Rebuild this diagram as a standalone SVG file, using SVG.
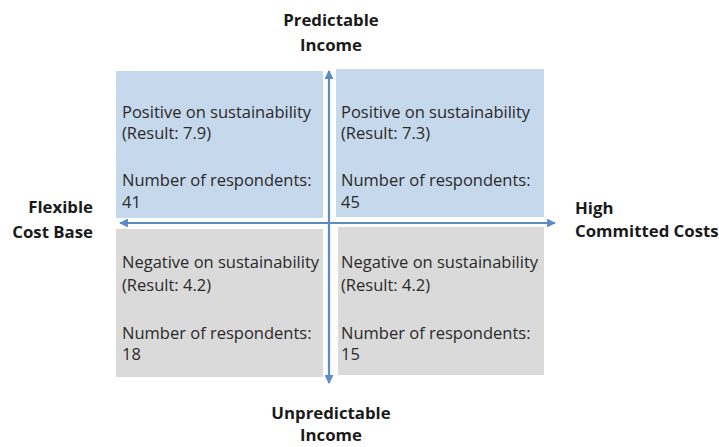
<svg xmlns="http://www.w3.org/2000/svg" width="719" height="447" viewBox="0 0 719 447">
<defs>
<style>
.q{font-family:"Open Sans","Liberation Sans",sans-serif;font-size:16.5px;fill:#2a2a2a}
.ax{font-family:"Open Sans","Liberation Sans",sans-serif;font-size:16.8px;font-weight:bold;fill:#1a1a1a}
.pos{fill:#c6d8ec}
.neg{fill:#dadada}
.axis{stroke:#5b8cc6;stroke-width:2.2;fill:none}
</style>
<marker id="ah" viewBox="0 0 10 10" refX="9" refY="5" markerWidth="4" markerHeight="4" orient="auto-start-reverse" markerUnits="strokeWidth">
<path d="M0,0 L10,5 L0,10 z" fill="#5b8cc6"/>
</marker>
</defs>
<rect width="719" height="447" fill="#ffffff"/>
<g id="q-top-left">
<rect class="pos" x="116" y="71" width="207" height="147"/>
<text class="q" x="122" y="118">Positive on sustainability</text>
<text class="q" x="122" y="139">(Result: 7.9)</text>
<text class="q" x="122" y="186">Number of respondents:</text>
<text class="q" x="122" y="208">41</text>
</g>
<g id="q-top-right">
<rect class="pos" x="336" y="69" width="208" height="148"/>
<text class="q" x="341" y="118">Positive on sustainability</text>
<text class="q" x="341" y="139">(Result: 7.3)</text>
<text class="q" x="341" y="186">Number of respondents:</text>
<text class="q" x="341" y="208">45</text>
</g>
<g id="q-bottom-left">
<rect class="neg" x="116" y="229" width="207" height="148"/>
<text class="q" x="122" y="268">Negative on sustainability</text>
<text class="q" x="122" y="291">(Result: 4.2)</text>
<text class="q" x="122" y="339">Number of respondents:</text>
<text class="q" x="122" y="360">18</text>
</g>
<g id="q-bottom-right">
<rect class="neg" x="338" y="227" width="206" height="148"/>
<text class="q" x="341" y="268">Negative on sustainability</text>
<text class="q" x="341" y="291">(Result: 4.2)</text>
<text class="q" x="341" y="339">Number of respondents:</text>
<text class="q" x="341" y="360">15</text>
</g>
<g id="connectors">
<line class="axis" x1="120" y1="223" x2="555" y2="223" marker-start="url(#ah)" marker-end="url(#ah)"/>
<line class="axis" x1="329" y1="71" x2="329" y2="383" marker-start="url(#ah)" marker-end="url(#ah)"/>
</g>
<g id="label-top">
<text class="ax" x="331" y="26" text-anchor="middle">Predictable</text>
<text class="ax" x="331" y="51" text-anchor="middle">Income</text>
</g>
<g id="label-bottom">
<text class="ax" x="331" y="419" text-anchor="middle">Unpredictable</text>
<text class="ax" x="331" y="441" text-anchor="middle">Income</text>
</g>
<g id="label-left">
<text class="ax" x="93" y="213" text-anchor="end">Flexible</text>
<text class="ax" x="93" y="238" text-anchor="end">Cost Base</text>
</g>
<g id="label-right">
<text class="ax" x="575" y="214">High</text>
<text class="ax" x="575" y="237">Committed Costs</text>
</g>
</svg>
